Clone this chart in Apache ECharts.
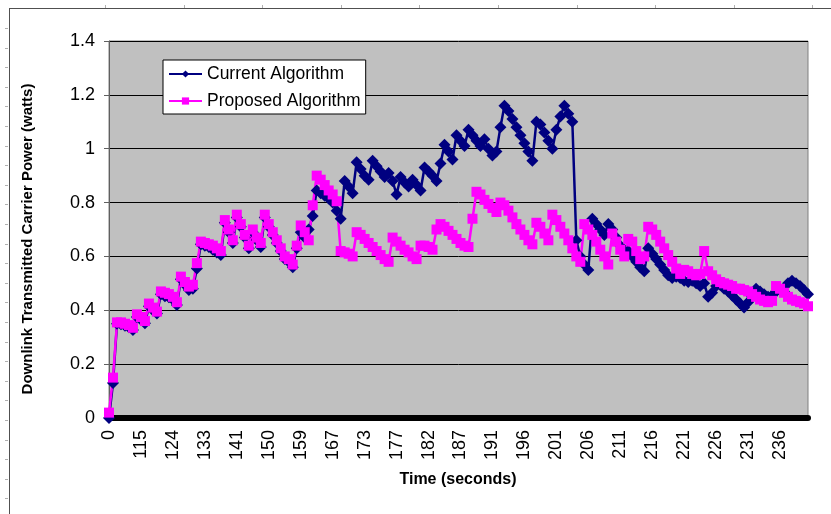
<!DOCTYPE html>
<html>
<head>
<meta charset="utf-8">
<script src="https://cdn.jsdelivr.net/npm/echarts@6/dist/echarts.min.js"></script>
<style>
html,body{margin:0;padding:0;background:#fff;}
#chart{width:831px;height:514px;}
</style>
</head>
<body>
<div id="chart"></div>
<script>
// Tick labels shown on the category axis (one every 8 samples)
const tickLabels = ["0","115","124","133","141","150","159","167","173","177","182","187","191","196","201","206","211","216","221","226","231","236"];
const labelStep = 8;

const currentAlgorithm = [
0.0,0.13,0.35,0.348,0.343,0.337,0.327,0.375,0.365,0.352,
0.415,0.4,0.388,0.46,0.452,0.448,0.44,0.42,0.515,0.495,
0.475,0.48,0.555,0.645,0.64,0.635,0.625,0.615,0.605,0.725,
0.69,0.65,0.745,0.71,0.67,0.63,0.69,0.66,0.635,0.745,
0.71,0.68,0.65,0.62,0.59,0.58,0.56,0.63,0.69,0.67,
0.7,0.75,0.845,0.835,0.825,0.815,0.8,0.77,0.74,0.88,
0.86,0.835,0.95,0.925,0.9,0.885,0.955,0.935,0.915,0.895,
0.91,0.88,0.83,0.895,0.875,0.86,0.885,0.865,0.845,0.93,
0.915,0.9,0.88,0.945,1.015,0.99,0.96,1.05,1.03,1.01,
1.07,1.05,1.03,1.01,1.035,1.0,0.975,0.99,1.08,1.16,
1.14,1.11,1.08,1.05,1.02,0.99,0.955,1.1,1.09,1.06,
1.03,1.0,1.07,1.12,1.16,1.13,1.1,0.66,0.6,0.57,
0.55,0.74,0.72,0.7,0.68,0.72,0.7,0.67,0.64,0.62,
0.62,0.6,0.58,0.56,0.545,0.63,0.61,0.59,0.57,0.55,
0.53,0.52,0.525,0.52,0.51,0.505,0.51,0.5,0.49,0.5,
0.45,0.465,0.49,0.495,0.48,0.47,0.455,0.44,0.425,0.41,
0.43,0.45,0.48,0.47,0.46,0.45,0.455,0.47,0.475,0.47,
0.5,0.51,0.5,0.49,0.475,0.46
];

const proposedAlgorithm = [
0.02,0.15,0.355,0.355,0.35,0.345,0.335,0.385,0.375,0.36,
0.425,0.41,0.395,0.47,0.465,0.46,0.45,0.43,0.525,0.505,
0.488,0.495,0.575,0.655,0.65,0.645,0.64,0.63,0.62,0.735,
0.7,0.66,0.755,0.72,0.68,0.64,0.70,0.67,0.65,0.755,
0.72,0.69,0.66,0.63,0.60,0.59,0.57,0.64,0.715,0.69,
0.66,0.79,0.9,0.885,0.865,0.845,0.83,0.805,0.62,0.615,
0.61,0.6,0.69,0.68,0.665,0.65,0.635,0.62,0.605,0.59,
0.58,0.67,0.655,0.64,0.625,0.615,0.6,0.59,0.64,0.64,
0.635,0.625,0.7,0.72,0.71,0.695,0.68,0.665,0.65,0.64,
0.635,0.74,0.84,0.83,0.81,0.795,0.78,0.765,0.8,0.79,
0.77,0.745,0.72,0.7,0.68,0.66,0.645,0.725,0.71,0.685,
0.66,0.755,0.735,0.71,0.685,0.66,0.63,0.6,0.58,0.72,
0.7,0.68,0.655,0.625,0.6,0.57,0.685,0.655,0.625,0.6,
0.665,0.655,0.62,0.59,0.6,0.71,0.7,0.68,0.655,0.63,
0.605,0.58,0.555,0.535,0.55,0.545,0.535,0.53,0.535,0.62,
0.545,0.53,0.515,0.505,0.5,0.495,0.49,0.48,0.48,0.475,
0.47,0.46,0.45,0.44,0.435,0.43,0.435,0.49,0.48,0.465,
0.45,0.44,0.435,0.43,0.425,0.415
];

const categories = currentAlgorithm.map((_, i) => (i % labelStep === 0 && tickLabels[i / labelStep] !== undefined) ? tickLabels[i / labelStep] : '');

const FONT = '"Liberation Sans", Arial, sans-serif';
const chart = echarts.init(document.getElementById('chart'), null, {renderer: 'canvas'});

// decorative frame ticks
const frame = [
  {type:'line', shape:{x1:9,y1:8.5,x2:831,y2:8.5}, style:{stroke:'#505050', lineWidth:1}, silent:true},
  {type:'line', shape:{x1:9.5,y1:9,x2:9.5,y2:514}, style:{stroke:'#505050', lineWidth:1}, silent:true}
];
for (let x = 105; x < 831; x += 78.6) {
  frame.push({type:'line', shape:{x1:Math.round(x)+0.5,y1:5,x2:Math.round(x)+0.5,y2:8}, style:{stroke:'#b0b0b0', lineWidth:1}, silent:true});
}
for (let y = 28; y < 514; y += 19.6) {
  frame.push({type:'line', shape:{x1:5,y1:Math.round(y)+0.5,x2:8,y2:Math.round(y)+0.5}, style:{stroke:'#b0b0b0', lineWidth:1}, silent:true});
}

chart.setOption({
  animation: false,
  backgroundColor: '#ffffff',
  grid: {
    left: 109, right: 23, top: 41, bottom: 96,
    show: true, backgroundColor: '#C0C0C0', borderColor: '#808080', borderWidth: 1
  },
  legend: {
    left: 163, top: 60,
    orient: 'vertical',
    backgroundColor: '#ffffff',
    borderColor: '#000000', borderWidth: 1,
    padding: [5, 5, 4, 5],
    itemGap: 9,
    itemWidth: 33, itemHeight: 9,
    selectedMode: false,
    textStyle: {fontFamily: FONT, fontSize: 17.5, color: '#000'},
    data: ['Current Algorithm', 'Proposed Algorithm']
  },
  xAxis: {
    type: 'category',
    data: categories,
    boundaryGap: false,
    offset: 3,
    axisLine: {lineStyle: {color: '#000', width: 6}},
    axisTick: {show: false},
    axisLabel: {
      interval: labelStep - 1,
      rotate: 90,
      margin: 9,
      fontFamily: FONT, fontSize: 18, color: '#000'
    },
    splitLine: {show: false}
  },
  yAxis: {
    type: 'value',
    min: 0, max: 1.4, interval: 0.2,
    axisLine: {show: true, lineStyle: {color: '#606060', width: 1}},
    axisTick: {show: true, length: 5, lineStyle: {color: '#606060'}},
    axisLabel: {margin: 14, fontFamily: FONT, fontSize: 18, color: '#000'},
    splitLine: {show: true, lineStyle: {color: '#000', width: 1}}
  },
  graphic: frame.concat([
    {type:'text', x:28, y:239, rotation: Math.PI/2, silent:true,
     style:{text:'Downlink Transmitted Carrier Power (watts)', font:'bold 15px ' + FONT, fill:'#000', textAlign:'center', textVerticalAlign:'middle'}},
    {type:'text', x:458, y:480, silent:true,
     style:{text:'Time (seconds)', font:'bold 16px ' + FONT, fill:'#000', textAlign:'center', textVerticalAlign:'middle'}}
  ]),
  series: [
    {
      name: 'Current Algorithm',
      type: 'line',
      data: currentAlgorithm,
      symbol: 'diamond', symbolSize: 12,
      showAllSymbol: true,
      itemStyle: {color: '#000080'},
      lineStyle: {color: '#000080', width: 2.5}
    },
    {
      name: 'Proposed Algorithm',
      type: 'line',
      data: proposedAlgorithm,
      symbol: 'rect', symbolSize: 10,
      showAllSymbol: true,
      itemStyle: {color: '#FF00FF'},
      lineStyle: {color: '#FF00FF', width: 2.5}
    }
  ]
});
</script>
</body>
</html>
